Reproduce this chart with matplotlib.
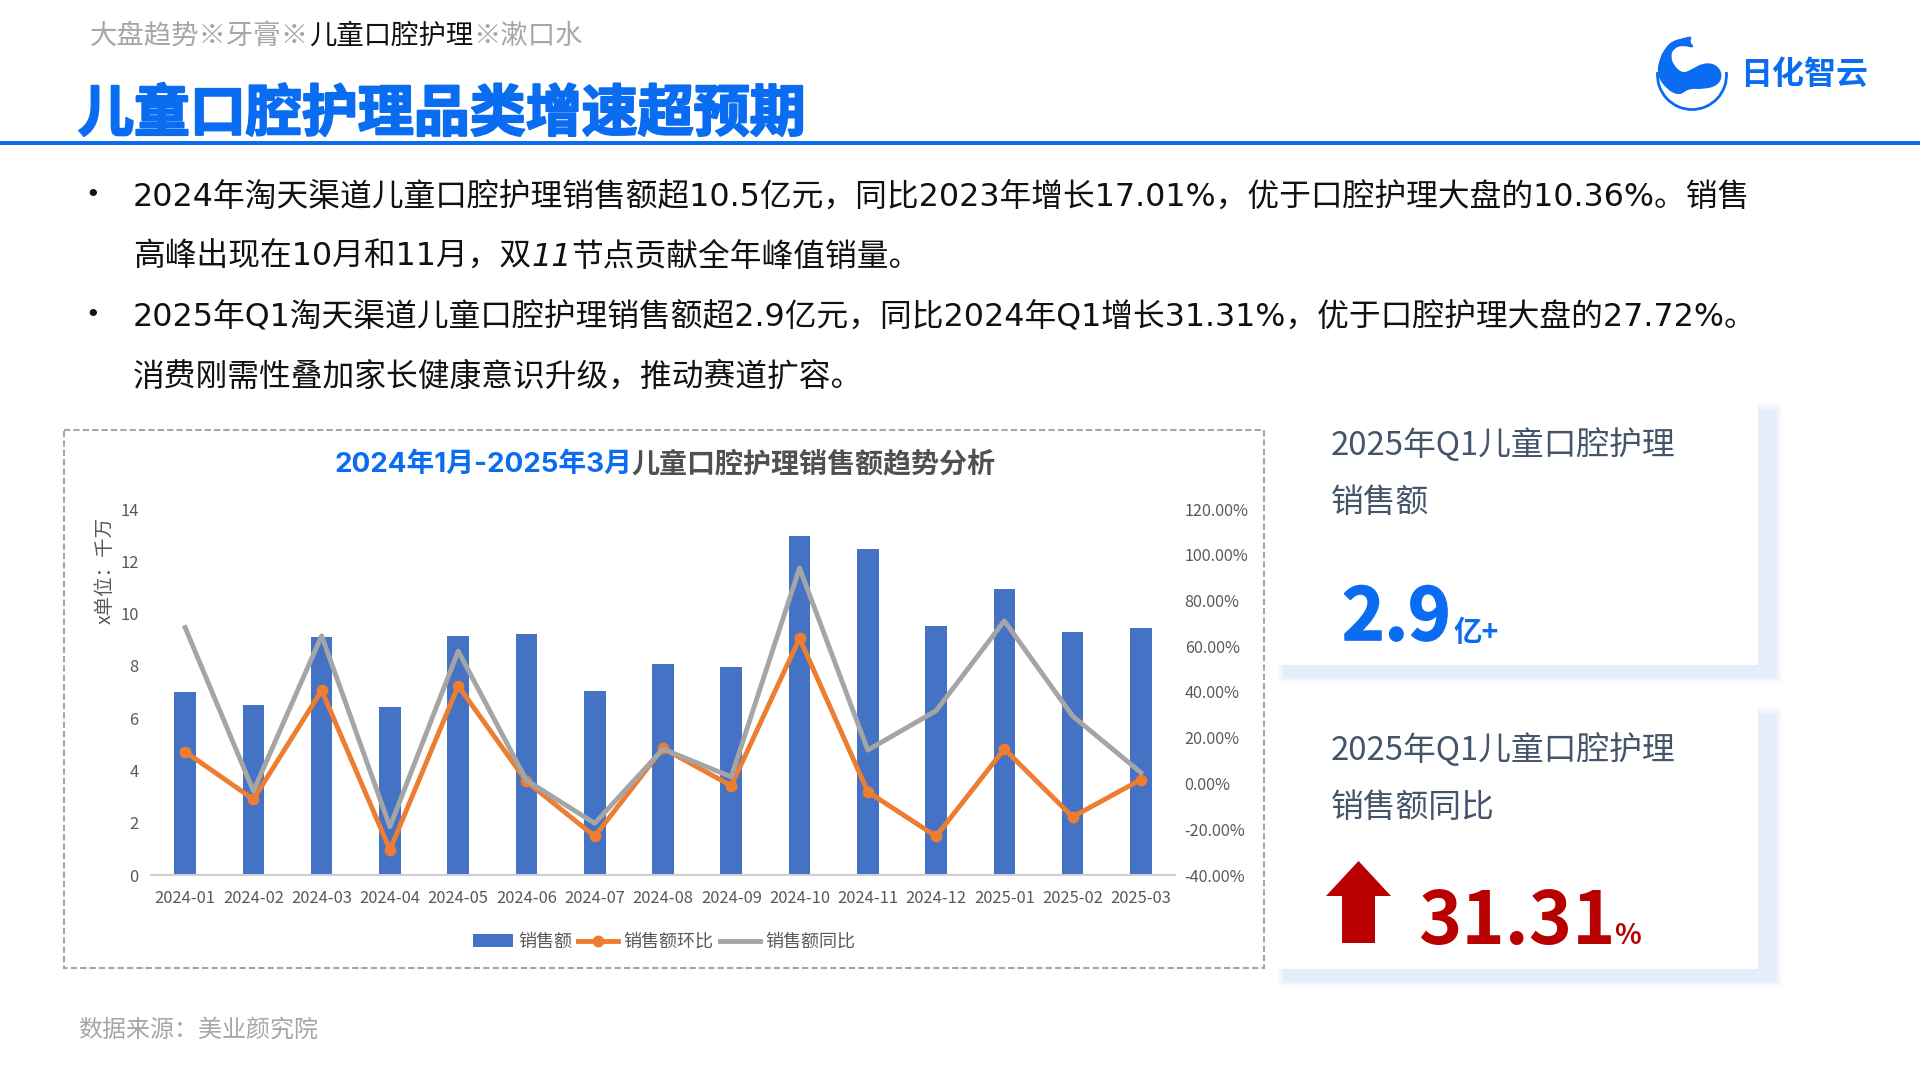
import numpy as np
import matplotlib
matplotlib.use('Agg')
import matplotlib.pyplot as plt
from matplotlib.path import Path
from matplotlib.patches import Rectangle, Polygon, Arc, PathPatch
from matplotlib.patheffects import withStroke

CJK = ['Noto Sans CJK SC', 'DejaVu Sans']
WIDE = ['DejaVu Sans', 'Noto Sans CJK SC']  # wider digits, closer to the slide font
INTER = ['Inter', 'Noto Sans CJK SC', 'DejaVu Sans']
plt.rcParams['font.family'] = CJK

# chart data
months = ['2024-01', '2024-02', '2024-03', '2024-04', '2024-05', '2024-06', '2024-07', '2024-08',
          '2024-09', '2024-10', '2024-11', '2024-12', '2025-01', '2025-02', '2025-03']
sales = [7.0, 6.5, 9.1, 6.42, 9.15, 9.2, 7.03, 8.07, 7.96, 12.98, 12.47, 9.53, 10.93, 9.3, 9.44]
mom = [13.9, -6.9, 40.7, -29.0, 42.7, 0.9, -23.1, 15.4, -1.0, 63.5, -3.6, -23.1, 15.1, -14.6, 1.7]
yoy = [68.2, -3.3, 64.6, -18.9, 57.9, 1.4, -17.4, 15.1, 2.9, 94.2, 14.6, 31.8, 71.1, 29.5, 4.8]
left_ticks = [0, 2, 4, 6, 8, 10, 12, 14]
right_ticks = [-40, -20, 0, 20, 40, 60, 80, 100, 120]
legend_names = ['销售额', '销售额环比', '销售额同比']

BLUE = '#0A6CF0'
W, H = 1920, 1080

fig = plt.figure(figsize=(19.2, 10.8), dpi=100, facecolor='white')

# page layer in pixel coordinates
bg = fig.add_axes([0, 0, 1, 1], zorder=0)
bg.set_xlim(0, W)
bg.set_ylim(H, 0)
bg.axis('off')
renderer = fig.canvas.get_renderer()


def runs(x, y, parts, size, weight='normal', family=None):
    # parts: (text, colour) or (text, colour, style), placed one after the other
    for part in parts:
        style = part[2] if len(part) > 2 else 'normal'
        t = bg.text(x, y, part[0], color=part[1], fontsize=size, fontweight=weight,
                    fontstyle=style, va='center', ha='left', family=family or CJK)
        x += t.get_window_extent(renderer).width
    return x


# header
runs(90, 36, [('大盘趋势※牙膏※', '#A6A6A6'), ('儿童口腔护理', '#111111'), ('※漱口水', '#A6A6A6')], 19.7)
t = bg.text(78, 115, '儿童口腔护理品类增速超预期', color=BLUE, fontsize=40.3, fontweight='bold', va='center')
t.set_path_effects([withStroke(linewidth=1.5, foreground=BLUE)])
bg.add_patch(Rectangle((0, 141), W, 4, fc=BLUE, ec='none'))

whale = np.array([(158, 64), (190, 56), (216, 49), (207, 66), (224, 84), (188, 74), (160, 84), (150, 108),
                  (160, 138), (188, 162), (215, 150), (250, 130), (288, 134), (307, 165), (292, 196),
                  (250, 206), (205, 204), (178, 226), (140, 206), (112, 165), (120, 115), (138, 84)], dtype=float)
whale = whale / 3 + [1620, 20]
mids = (whale + np.roll(whale, -1, axis=0)) / 2
verts = [mids[-1]]
codes = [Path.MOVETO]
for i in range(len(whale)):
    verts += [whale[i], mids[i]]
    codes += [Path.CURVE3, Path.CURVE3]
bg.add_patch(PathPatch(Path(verts, codes), fc=BLUE, ec=BLUE, lw=0.8))
bg.add_patch(Arc((1692, 75), 69, 69, theta1=-5, theta2=185, ec=BLUE, lw=2))
bg.text(1740, 75, '日化智云', color=BLUE, fontsize=23, fontweight='bold', va='center')

# bullets
body = '#111111'
for y in [196, 315]:
    bg.text(93, y, '•', color=body, fontsize=25, va='center', ha='center')
runs(133, 198.5, [('2024年淘天渠道儿童口腔护理销售额超10.5亿元，同比2023年增长17.01%，优于口腔护理大盘的10.36%。销售', body)], 22.85, family=WIDE)
runs(133, 257.5, [('高峰出现在10月和11月，双', body), ('11', body, 'italic'), ('节点贡献全年峰值销量。', body)], 22.85, family=WIDE)
runs(133, 317.5, [('2025年Q1淘天渠道儿童口腔护理销售额超2.9亿元，同比2024年Q1增长31.31%，优于口腔护理大盘的27.72%。', body)], 22.85, family=WIDE)
runs(133, 377.5, [('消费刚需性叠加家长健康意识升级，推动赛道扩容。', body)], 22.85, family=WIDE)

# dashed frame of the chart
bg.add_patch(Rectangle((64, 430), 1200, 538, fc='none', ec='#A6A6A6', lw=1.5, ls=(0, (3, 1.5))))
runs(334, 465, [('2024年1月-2025年3月', BLUE)], 20, 'bold', family=INTER)
runs(631, 465, [('儿童口腔护理销售额趋势分析', '#505050')], 20.2, 'bold')


# cards with a soft pale shadow
def card(x0, y0, x1, y1):
    for grow, a in [(5, 0.12), (3, 0.2), (1, 0.35), (-1, 1.0)]:
        bg.add_patch(Rectangle((x0 - grow, y0 - grow), x1 - x0 + 20 + 2 * grow, y1 - y0 + 14 + 2 * grow,
                               fc='#E6ECFA', ec='none', alpha=a))
    bg.add_patch(Rectangle((x0 - 8, y0 - 8), x1 - x0 + 8, y1 - y0 + 8, fc='white', ec='none'))


card(1282, 408, 1758, 665)
card(1282, 712, 1758, 969)

grey_blue = '#44546A'
bg.text(1331, 445, '2025年Q1儿童口腔护理', color=grey_blue, fontsize=23.6, va='center')
bg.text(1331, 503, '销售额', color=grey_blue, fontsize=23.6, va='center')
bg.text(1331, 750, '2025年Q1儿童口腔护理', color=grey_blue, fontsize=23.6, va='center')
bg.text(1331, 808, '销售额同比', color=grey_blue, fontsize=23.6, va='center')

t = bg.text(1342, 640, '2.9', color=BLUE, fontsize=52, fontweight='bold', va='baseline')
t.set_path_effects([withStroke(linewidth=1.2, foreground=BLUE)])
bg.text(1453, 641, '亿+', color=BLUE, fontsize=20.5, fontweight='bold', va='baseline')
bg.add_patch(Polygon([(1358.5, 861), (1391, 896), (1375, 896), (1375, 943), (1342, 943), (1342, 896), (1326, 896)],
                     closed=True, fc='#B80000', ec='none'))
bg.text(1418, 944, '31.31', color='#B80000', fontsize=53, fontweight='bold', va='baseline')
bg.text(1614, 944, '%', color='#B80000', fontsize=20, fontweight='bold', va='baseline')

bg.text(78, 1030, '数据来源：美业颜究院', color='#A6A6A6', fontsize=17.3, va='center')

# chart: axes box is x 151-1175, y 509-875 in pixels
ax = fig.add_axes([151 / W, 1 - 875 / H, 1024 / W, 366 / H], zorder=1)
ax.patch.set_alpha(0)
x = np.arange(len(months))
bars = ax.bar(x, sales, width=0.316, color='#4472C4', label=legend_names[0])
ax.set_xlim(-0.5, len(months) - 0.5)
ax.set_ylim(0, 14)
ax.set_yticks(left_ticks)
ax.set_xticks(x)
ax.set_xticklabels(months)
ax.tick_params(axis='both', length=0, labelsize=11.9, labelcolor='#595959')
ax.tick_params(axis='x', pad=11)
ax.tick_params(axis='y', pad=9)
for s in ['top', 'left', 'right']:
    ax.spines[s].set_visible(False)
ax.spines['bottom'].set_color('#D0D0D0')
ax.spines['bottom'].set_linewidth(1.5)
ax.set_ylabel('x单位：千万', fontsize=14, color='#595959')
ax.yaxis.set_label_coords((116 - 151) / 1024, (875 - 570) / 366)

ax2 = ax.twinx()
ax2.set_zorder(2)
ax2.patch.set_alpha(0)
line1, = ax2.plot(x, mom, '-o', color='#ED7D31', lw=3.5, ms=7.5, label=legend_names[1])
line2, = ax2.plot(x, yoy, '-', color='#A5A5A5', lw=3.5, label=legend_names[2])
ax2.set_ylim(-40, 120)
ax2.set_yticks(right_ticks)
ax2.set_yticklabels(['%.2f%%' % v for v in right_ticks])
ax2.tick_params(axis='y', length=0, labelsize=11.7, labelcolor='#595959', pad=7)
for s in ['top', 'left', 'right', 'bottom']:
    ax2.spines[s].set_visible(False)

fig.legend([bars, line1, line2], legend_names, loc='center', bbox_to_anchor=(664 / W, 1 - 942 / H),
           ncol=3, frameon=False, fontsize=13, labelcolor='#595959', handlelength=2.2,
           handletextpad=0.3, columnspacing=0.35, borderpad=0)

fig.savefig('out.png', dpi=100)
